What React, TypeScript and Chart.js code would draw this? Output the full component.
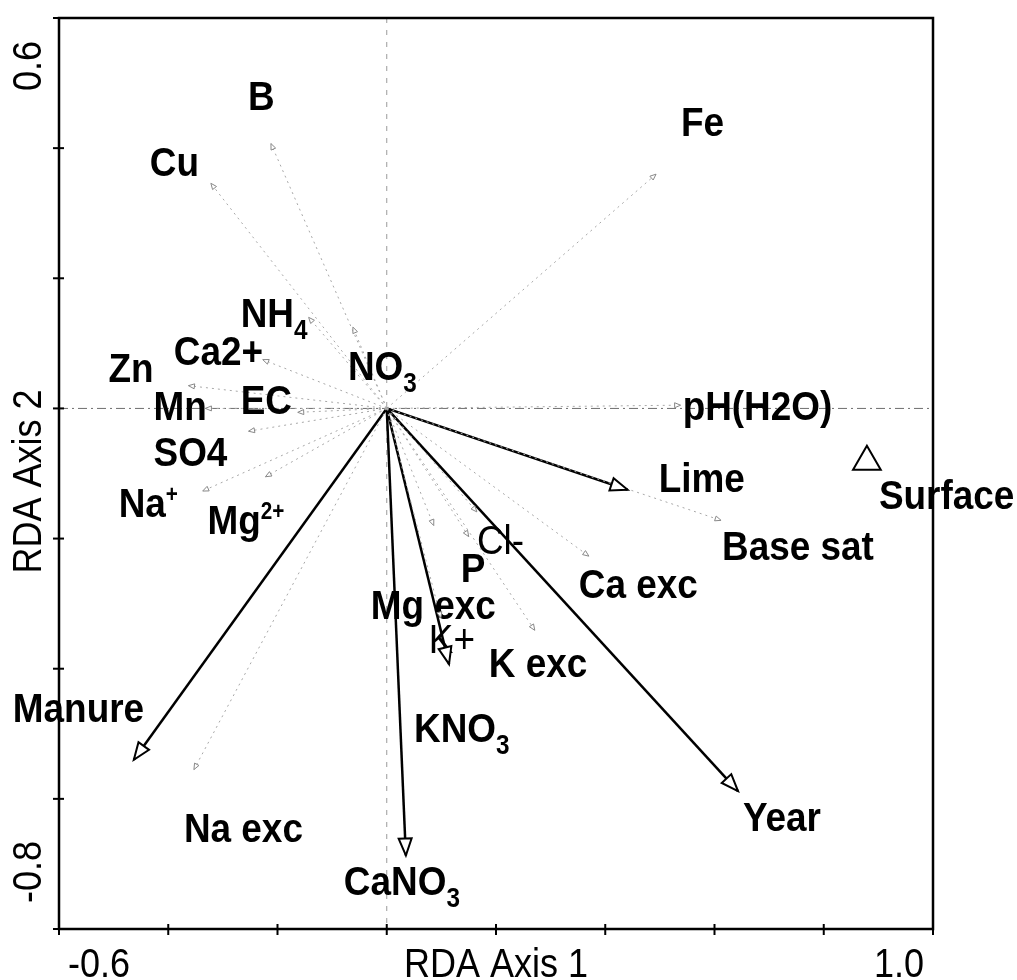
import React, { useEffect, useRef } from 'react';
import { Chart, registerables } from 'chart.js';

Chart.register(...registerables);

// ---------- axes ----------
const xMin = -0.6;
const xMax = 1.0;
const yMin = -0.8;
const yMax = 0.6;
const xTickValues = [-0.6, -0.4, -0.2, 0, 0.2, 0.4, 0.6, 0.8, 1.0];
const yTickValues = [-0.8, -0.6, -0.4, -0.2, 0, 0.2, 0.4, 0.6];
const xTickLabels = ['-0.6', '1.0'];
const yTickLabels = ['-0.8', '0.6'];
const xTitle = 'RDA Axis 1';
const yTitle = 'RDA Axis 2';

// ---------- explanatory variables (solid arrows) ----------
const envNames = ['Manure', 'CaNO_3', 'KNO_3', 'Lime', 'Year'];
const envX = [-0.463, 0.035, 0.114, 0.441, 0.643];
const envY = [-0.54, -0.687, -0.393, -0.125, -0.588];

// ---------- response variables (dotted arrows) ----------
const respNames = [
  'B', 'Cu', 'Fe', 'NH_4', 'NO_3', 'Ca2+', 'Zn', 'Mn', 'EC', 'SO4', 'Na^+', 'Mg^{2+}',
  'Na exc', 'pH(H2O)', 'Base sat', 'Cl-', 'P', 'Mg exc', 'K+', 'Ca exc', 'K exc',
];
const respX = [
  -0.212, -0.322, 0.493, -0.143, -0.062, -0.227, -0.363, -0.332, -0.163, -0.253, -0.337, -0.222,
  -0.353, 0.538, 0.612, 0.165, 0.15, 0.086, 0.099, 0.37, 0.271,
];
const respY = [
  0.407, 0.346, 0.36, 0.14, 0.125, 0.075, 0.035, 0.0, -0.006, -0.035, -0.127, -0.105,
  -0.555, 0.005, -0.172, -0.159, -0.197, -0.18, -0.322, -0.227, -0.341,
];

// ---------- sample centroid ----------
const sampleNames = ['Surface'];
const sampleX = [0.879];
const sampleY = [-0.082];

// ---------- label layout (pixel offsets: left edge, baseline from mark) ----------
const labelOffsets: Record<string, [number, number]> = {
  Manure: [-121, -38],
  CaNO_3: [-62, 40],
  KNO_3: [-35, 78],
  Lime: [31, 2],
  Year: [5, 40],
  Surface: [12, 47],
  B: [-23, -34],
  Cu: [-61, -7],
  Fe: [25, -38],
  NH_4: [-68, 10],
  NO_3: [-5, 53],
  'Ca2+': [-89, 5],
  Zn: [-80, -4],
  Mn: [-52, 12],
  EC: [-57, 2],
  SO4: [-95, 35],
  'Na^+': [-84, 26],
  'Mg^{2+}': [-58, 57],
  'Na exc': [-10, 72],
  'pH(H2O)': [2, 15],
  'Base sat': [1, 40],
  'Cl-': [0, 42],
  P: [-8, 45],
  'Mg exc': [-63, 93],
  'K+': [-12, 35],
  'Ca exc': [-10, 42],
  'K exc': [-46, 47],
};
const regularLabels = new Set(['Cl-', 'K+']);

const FONT = '"Liberation Sans", Arial, Helvetica, sans-serif';
const SX = 0.9;

type Seg = { t: string; k: 'n' | 'sub' | 'sup' };
function parseRich(s: string): Seg[] {
  const segs: Seg[] = [];
  let buf = '';
  let i = 0;
  while (i < s.length) {
    const c = s[i];
    if ((c === '_' || c === '^') && i + 1 < s.length) {
      if (buf) { segs.push({ t: buf, k: 'n' }); buf = ''; }
      let t: string;
      if (s[i + 1] === '{') {
        const j = s.indexOf('}', i + 2);
        t = s.slice(i + 2, j);
        i = j + 1;
      } else {
        t = s[i + 1];
        i += 2;
      }
      segs.push({ t, k: c === '_' ? 'sub' : 'sup' });
    } else {
      buf += c;
      i++;
    }
  }
  if (buf) segs.push({ t: buf, k: 'n' });
  return segs;
}

function drawRich(
  ctx: CanvasRenderingContext2D, text: string, x: number, y: number,
  size: number, weight: string, align: 'left' | 'right' | 'center' = 'left'
) {
  const segs = parseRich(text);
  const fontFor = (k: Seg['k']) =>
    `${weight} ${k === 'n' ? size : Math.round(size * (k === 'sub' ? 0.65 : 0.55))}px ${FONT}`;
  let total = 0;
  const widths = segs.map((s) => {
    ctx.font = fontFor(s.k);
    const w = ctx.measureText(s.t).width * SX;
    total += w;
    return w;
  });
  let cx = align === 'left' ? x : align === 'right' ? x - total : x - total / 2;
  ctx.textAlign = 'left';
  ctx.textBaseline = 'alphabetic';
  segs.forEach((s, i) => {
    ctx.font = fontFor(s.k);
    const dy = s.k === 'sub' ? size * 0.28 : s.k === 'sup' ? -size * 0.36 : 0;
    ctx.save();
    ctx.translate(cx, y + dy);
    ctx.scale(SX, 1);
    ctx.fillText(s.t, 0, 0);
    ctx.restore();
    cx += widths[i];
  });
}

function arrowHead(ctx: CanvasRenderingContext2D, x0: number, y0: number, x1: number, y1: number,
  len: number, half: number, lw: number, color: string) {
  const a = Math.atan2(y1 - y0, x1 - x0);
  const ux = Math.cos(a), uy = Math.sin(a);
  const bx = x1 - ux * len, by = y1 - uy * len;
  ctx.save();
  ctx.setLineDash([]);
  ctx.beginPath();
  ctx.moveTo(x1, y1);
  ctx.lineTo(bx - uy * half, by + ux * half);
  ctx.lineTo(bx + uy * half, by - ux * half);
  ctx.closePath();
  ctx.fillStyle = '#fff';
  ctx.fill();
  ctx.lineWidth = lw;
  ctx.strokeStyle = color;
  ctx.lineJoin = 'miter';
  ctx.stroke();
  ctx.restore();
}

const biplotPlugin = {
  id: 'biplot',
  beforeDatasetsDraw(chart: any) {
    const { ctx, chartArea: ca, scales } = chart;
    const x0 = scales.x.getPixelForValue(0);
    const y0 = scales.y.getPixelForValue(0);
    ctx.save();
    ctx.strokeStyle = '#6e6e6e';
    ctx.lineWidth = 1;
    ctx.setLineDash([9, 4, 2, 4]);
    ctx.beginPath();
    ctx.moveTo(ca.left, y0);
    ctx.lineTo(ca.right, y0);
    ctx.stroke();
    ctx.strokeStyle = '#9a9a9a';
    ctx.setLineDash([5, 7]);
    ctx.beginPath();
    ctx.moveTo(x0, ca.top);
    ctx.lineTo(x0, ca.bottom);
    ctx.stroke();
    ctx.restore();
  },
  afterDatasetsDraw(chart: any) {
    const { ctx, chartArea: ca, scales } = chart;
    ctx.save();
    ctx.fillStyle = '#000';
    chart.data.datasets.forEach((ds: any, i: number) => {
      const meta = chart.getDatasetMeta(i);
      if (ds.arrowKind) {
        const p0 = meta.data[0];
        const p1 = meta.data[1];
        if (ds.arrowKind === 'env') {
          arrowHead(ctx, p0.x, p0.y, p1.x, p1.y, 17, 6.5, 2, '#000');
        } else {
          arrowHead(ctx, p0.x, p0.y, p1.x, p1.y, 6, 2.5, 1, '#888');
        }
        const off = labelOffsets[ds.label] || [0, 0];
        ctx.fillStyle = '#000';
        drawRich(ctx, ds.label, p1.x + off[0], p1.y + off[1], 41,
          regularLabels.has(ds.label) ? 'normal' : 'bold');
      } else if (ds.isSample) {
        meta.data.forEach((pt: any, j: number) => {
          const name = sampleNames[j];
          const off = labelOffsets[name] || [0, 0];
          ctx.fillStyle = '#000';
          drawRich(ctx, name, pt.x + off[0], pt.y + off[1], 41, 'bold');
        });
      }
    });

    // frame
    ctx.setLineDash([]);
    ctx.strokeStyle = '#000';
    ctx.lineWidth = 2.5;
    ctx.strokeRect(ca.left, ca.top, ca.right - ca.left, ca.bottom - ca.top);
    // tick marks
    ctx.lineWidth = 2;
    xTickValues.forEach((v) => {
      const px = scales.x.getPixelForValue(v);
      ctx.beginPath();
      ctx.moveTo(px, ca.bottom - 5);
      ctx.lineTo(px, ca.bottom + 6);
      ctx.stroke();
    });
    yTickValues.forEach((v) => {
      const py = scales.y.getPixelForValue(v);
      ctx.beginPath();
      ctx.moveTo(ca.left - 6, py);
      ctx.lineTo(ca.left + 5, py);
      ctx.stroke();
    });

    // tick labels (end values only)
    ctx.fillStyle = '#000';
    const base = ca.bottom + 48;
    drawRich(ctx, xTickLabels[0], scales.x.getPixelForValue(xMin) + 9, base, 40, 'normal', 'left');
    drawRich(ctx, xTickLabels[1], scales.x.getPixelForValue(xMax) - 9, base, 40, 'normal', 'right');
    drawRich(ctx, xTitle, (ca.left + ca.right) / 2, base, 40, 'normal', 'center');

    const yBase = ca.left - 18;
    ctx.save();
    ctx.translate(yBase, scales.y.getPixelForValue(yMin) - 26);
    ctx.rotate(-Math.PI / 2);
    drawRich(ctx, yTickLabels[0], 0, 0, 40, 'normal', 'left');
    ctx.restore();
    ctx.save();
    ctx.translate(yBase, scales.y.getPixelForValue(yMax) + 23);
    ctx.rotate(-Math.PI / 2);
    drawRich(ctx, yTickLabels[1], 0, 0, 40, 'normal', 'right');
    ctx.restore();
    ctx.save();
    ctx.translate(yBase, (ca.top + ca.bottom) / 2 + 8);
    ctx.rotate(-Math.PI / 2);
    drawRich(ctx, yTitle, 0, 0, 40, 'normal', 'center');
    ctx.restore();

    ctx.restore();
  },
};

export default function App() {
  const ref = useRef<HTMLCanvasElement | null>(null);
  useEffect(() => {
    if (!ref.current) return;
    const datasets: any[] = [
      ...respNames.map((n, i) => ({
        type: 'line',
        label: n,
        arrowKind: 'resp',
        data: [{ x: 0, y: 0 }, { x: respX[i], y: respY[i] }],
        borderColor: '#a8a8a8',
        borderWidth: 1,
        borderDash: [2, 4],
        pointRadius: 0,
        fill: false,
        tension: 0,
      })),
      ...envNames.map((n, i) => ({
        type: 'line',
        label: n,
        arrowKind: 'env',
        data: [{ x: 0, y: 0 }, { x: envX[i], y: envY[i] }],
        borderColor: '#000',
        borderWidth: 2.5,
        pointRadius: 0,
        fill: false,
        tension: 0,
      })),
      {
        type: 'scatter',
        label: 'Surface',
        isSample: true,
        data: sampleX.map((x, i) => ({ x, y: sampleY[i] })),
        pointStyle: 'triangle',
        pointRadius: 16,
        borderColor: '#000',
        borderWidth: 2,
        backgroundColor: '#fff',
      },
    ];
    const chart = new Chart(ref.current, {
      type: 'scatter',
      data: { datasets },
      options: {
        animation: false,
        responsive: false,
        devicePixelRatio: 1,
        layout: { padding: { left: 59, top: 10, right: 84, bottom: 51 } },
        plugins: { legend: { display: false }, tooltip: { enabled: false } },
        events: [],
        scales: {
          x: {
            type: 'linear', min: xMin, max: xMax,
            ticks: { display: false, stepSize: 0.2 },
            grid: { display: false, drawTicks: false },
            border: { display: false },
            title: { display: false },
          },
          y: {
            type: 'linear', min: yMin, max: yMax,
            ticks: { display: false, stepSize: 0.2 },
            grid: { display: false, drawTicks: false },
            border: { display: false },
            title: { display: false },
          },
        },
      } as any,
      plugins: [biplotPlugin],
    });
    return () => chart.destroy();
  }, []);
  return (
    <div style={{ position: 'absolute', left: 0, top: 0, width: 1017, height: 980, background: '#fff' }}>
      <canvas ref={ref} width={1017} height={980} style={{ display: 'block' }} />
    </div>
  );
}
